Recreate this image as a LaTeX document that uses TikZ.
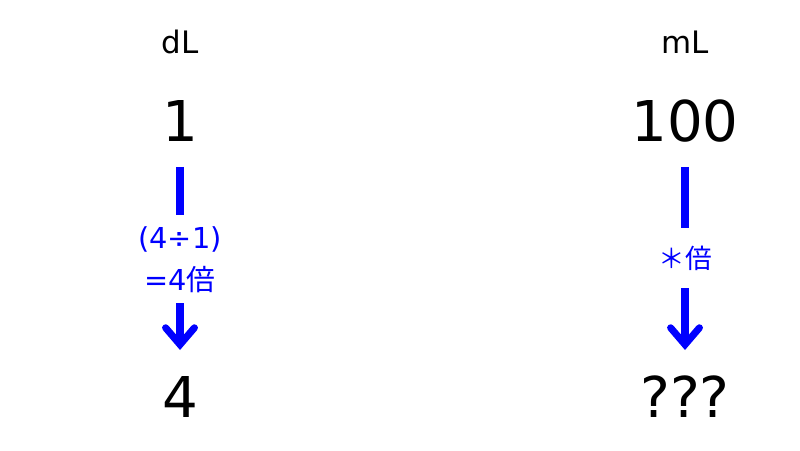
\documentclass[tikz,border=0pt]{standalone}
\usepackage{fontspec}
\setmainfont{DejaVu Sans}
\newfontfamily\jpfont{Noto Sans CJK JP}
\usepackage{xcolor}
\usepackage{tikz}
\usetikzlibrary{arrows.meta}

\begin{document}
\begin{tikzpicture}
        \tikzset{
            unit_label/.style={anchor=base, font=\fontsize{22}{24}\selectfont},
            amount/.style={anchor=base, font=\fontsize{40}{44}\selectfont},
            ratio/.style={anchor=base, text=blue, font=\fontsize{20.5}{22}\selectfont},
            bar/.style={draw=blue, line width=5pt},
            bar_arrow/.style={bar, -{Straight Barb[length=0.42cm, width=0.72cm, line cap=round]}}
        }
        \useasboundingbox[fill=white] (0,0) rectangle (20,11.25);
        % left column
        \node[unit_label] (dl) at (4.5,9.9) {dL};
        \node[amount] (A) at (4.5,7.7) {1};
        \node[ratio] (R1) at (4.5,5.05) {(4÷1)};
        \node[ratio] (R2) at (4.5,4.0) {=4{\jpfont 倍}};
        \node[amount] (B) at (4.5,0.825) {4};
        \coordinate (a1) at (4.5,7.075);
        \coordinate (a2) at (4.5,5.875);
        \coordinate (a3) at (4.5,3.675);
        \coordinate (a4) at (4.5,2.5);
        % right column
        \node[unit_label] (ml) at (17.125,9.9) {mL};
        \node[amount] (C) at (17.125,7.7) {100};
        \node[ratio, font=\fontsize{19}{21}\selectfont] (R3) at (17.125,4.55) {\jpfont ＊倍};
        \node[amount] (D) at (17.125,0.825) {???};
        \coordinate (c1) at (17.125,7.075);
        \coordinate (c2) at (17.125,5.55);
        \coordinate (c3) at (17.125,4.05);
        \coordinate (c4) at (17.125,2.5);
        \path[bar] (a1) -- (a2);
        \path[bar_arrow] (a3) -- (a4);
        \path[bar] (c1) -- (c2);
        \path[bar_arrow] (c3) -- (c4);
    \end{tikzpicture}
\end{document}
